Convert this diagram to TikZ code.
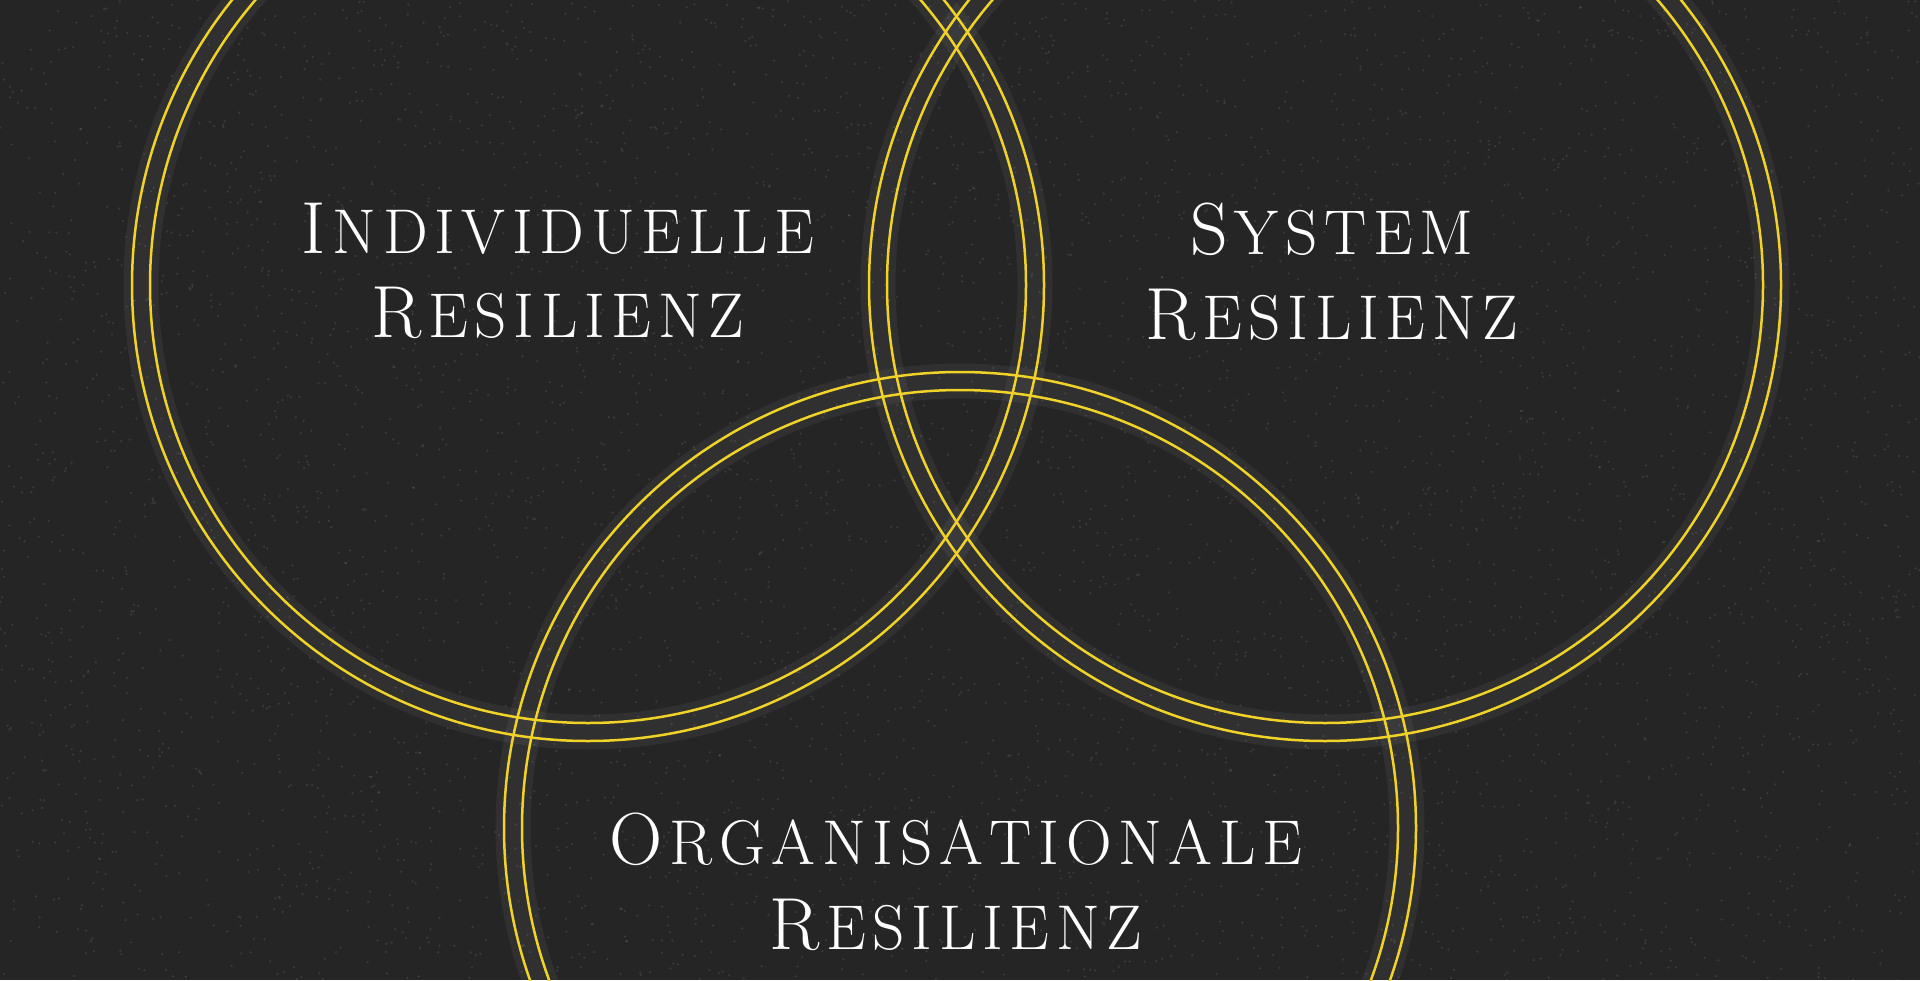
\documentclass[tikz,border=0pt]{standalone}
\usepackage{fontspec}
\usepackage{tikz}
\definecolor{ringyellow}{RGB}{240,210,40}
\definecolor{slate}{RGB}{37,37,37}
\tikzstyle{ring}=[draw=ringyellow, line width=0.05cm]
\tikzstyle{halo}=[draw=white, opacity=0.05, line width=0.7cm]
\tikzstyle{grain}=[fill=white, opacity=0.1]
\tikzstyle{area}=[text=white, align=center, inner sep=0pt, anchor=north, font=\fontsize{42}{48.2}\selectfont]
\makeatletter
\newcommand{\capword}[2]{#1{\fontsize{36}{48.2}\selectfont\@tfor\ch:=#2\do{\kern0.105em\ch}}}
\makeatother

\begin{document}
\begin{tikzpicture}
    % Background:
    \fill[slate] (0,0) rectangle (38.4,-19.6);
    \useasboundingbox (0,0) rectangle (38.4,-19.6);
    \pgfmathsetseed{7}
    \foreach \i in {1,...,5000} {
        \fill[grain] ({rnd*38.4},{-rnd*19.6}) circle (0.025);
    }

    % Halos:
    \draw[halo] (11.76,-5.70) circle (8.94cm);
    \draw[halo] (26.50,-5.70) circle (8.94cm);
    \draw[halo] (19.20,-16.56) circle (8.94cm);

    % Rings:
    \draw[ring] (11.76,-5.70) circle (9.12cm);
    \draw[ring] (11.76,-5.70) circle (8.76cm);
    \draw[ring] (26.50,-5.70) circle (9.12cm);
    \draw[ring] (26.50,-5.70) circle (8.76cm);
    \draw[ring] (19.20,-16.56) circle (9.12cm);
    \draw[ring] (19.20,-16.56) circle (8.76cm);

    % Labels:
    \node[area] (indiv) at (11.16,-4.05) {\capword{I}{NDIVIDUELLE}\\\capword{R}{ESILIENZ}};
    \node[area] (system) at (26.64,-4.05) {\capword{S}{YSTEM}\\\capword{R}{ESILIENZ}};
    \node[area] (organ) at (19.12,-16.26) {\capword{O}{RGANISATIONALE}\\\capword{R}{ESILIENZ}};
\end{tikzpicture}
\end{document}
